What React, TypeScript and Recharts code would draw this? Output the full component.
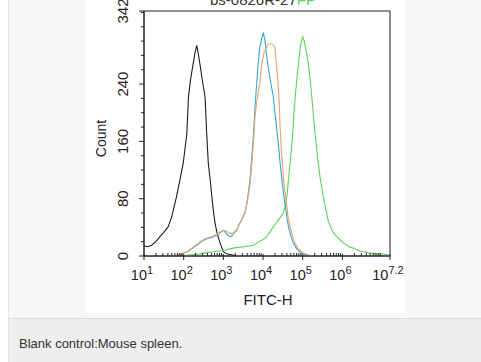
import React from 'react';
import { LineChart, Line, XAxis, YAxis, ReferenceArea } from 'recharts';

// ---- data (x = log10 of FITC-H, y = count) ----
const blankLog = [1.0, 1.1, 1.19, 1.3, 1.4, 1.5, 1.61, 1.7, 1.82, 1.9, 1.99, 2.08, 2.12, 2.17, 2.24, 2.29, 2.33, 2.36, 2.41, 2.47, 2.54, 2.58, 2.62, 2.67, 2.71, 2.75, 2.79, 2.85, 2.92, 3.0, 3.08, 3.17, 3.3];
const blankCount = [14, 13, 15, 20, 27, 33, 41, 55, 83, 105, 130, 171, 222, 245, 269, 285, 294, 285, 268, 245, 222, 171, 130, 105, 83, 62, 46, 30, 18, 6, 3, 2, 0.5];

const isoLog = [1.7, 1.82, 1.95, 2.08, 2.2, 2.33, 2.42, 2.5, 2.6, 2.75, 2.85, 2.93, 3.0, 3.07, 3.13, 3.2, 3.25, 3.34, 3.4, 3.46, 3.5, 3.55, 3.61, 3.67, 3.72, 3.76, 3.8, 3.84, 3.88, 3.92, 3.97, 4.01, 4.05, 4.09, 4.13, 4.2, 4.26, 4.3, 4.34, 4.38, 4.43, 4.49, 4.55, 4.6, 4.64, 4.7, 4.76, 4.85, 4.93, 5.02, 5.1, 5.2];
const isoCount = [0, 1, 3, 6, 10, 15, 19, 22, 24, 27, 30, 33, 36, 32, 28, 27, 30, 36, 45, 50, 55, 60, 80, 106, 140, 171, 210, 241, 270, 292, 305, 311, 300, 280, 264, 240, 222, 200, 180, 160, 130, 100, 74, 55, 41, 28, 18, 10, 6, 3, 1, 0];

const ctrlLog = [1.7, 1.82, 1.95, 2.08, 2.2, 2.33, 2.42, 2.5, 2.6, 2.75, 2.85, 2.93, 3.0, 3.07, 3.13, 3.2, 3.25, 3.34, 3.4, 3.46, 3.5, 3.55, 3.61, 3.67, 3.72, 3.76, 3.8, 3.84, 3.88, 3.92, 3.97, 4.03, 4.08, 4.13, 4.18, 4.23, 4.3, 4.34, 4.38, 4.41, 4.43, 4.47, 4.52, 4.59, 4.63, 4.68, 4.74, 4.8, 4.88, 4.97, 5.06, 5.18, 5.28];
const ctrlCount = [0, 1.5, 3, 6, 11, 16, 20, 23, 25, 28, 31, 34, 36, 35, 33, 31, 32, 37, 44, 50, 56, 62, 78, 100, 130, 160, 195, 215, 228, 241, 269, 285, 290, 296, 296, 296, 292, 265, 241, 210, 180, 140, 105, 74, 55, 41, 28, 18, 10, 6, 3, 1, 0];

const abLog = [2.0, 2.08, 2.25, 2.41, 2.6, 2.75, 2.9, 3.04, 3.15, 3.25, 3.38, 3.5, 3.63, 3.76, 3.87, 3.97, 4.03, 4.09, 4.18, 4.26, 4.32, 4.38, 4.45, 4.51, 4.56, 4.6, 4.64, 4.68, 4.72, 4.75, 4.78, 4.81, 4.85, 4.89, 4.95, 5.0, 5.04, 5.09, 5.14, 5.19, 5.23, 5.27, 5.31, 5.35, 5.39, 5.45, 5.52, 5.58, 5.64, 5.72, 5.8, 5.86, 5.95, 6.03, 6.11, 6.2, 6.28, 6.35, 6.45, 6.53, 6.7, 6.85, 6.95, 7.1, 7.2];
const abCount = [0, 1, 2, 3, 5, 6, 7, 8, 10, 11, 12, 13, 14, 15, 19, 22, 24, 27, 34, 41, 45, 50, 55, 60, 70, 83, 105, 130, 150, 171, 200, 222, 245, 269, 295, 306, 300, 285, 269, 245, 222, 195, 171, 150, 130, 105, 83, 65, 50, 38, 30, 27, 22, 18, 15, 12, 11, 9, 7, 6, 4, 3, 3, 2, 1];

const majorX = [1, 2, 3, 4, 5, 6, 7.2];
const xExponents = ['1', '2', '3', '4', '5', '6', '7.2'];
const decades = [1, 2, 3, 4, 5, 6, 7];
const multipliers = [2, 3, 4, 5, 6, 7, 8, 9];
const majorY = [0, 80, 160, 240, 342];
const minorY = [20, 40, 60, 100, 120, 140, 180, 200, 220, 260, 280, 300, 320, 340];

const titleText = 'bs-0826R-27';
const titleTail = 'FP';
const xTitle = 'FITC-H';
const yTitle = 'Count';
const caption = 'Blank control:Mouse spleen.';

const toPts = (xs: number[], ys: number[]) => xs.map((x, i) => ({ x, y: ys[i] }));
const blankPts = toPts(blankLog, blankCount);
const isoPts = toPts(isoLog, isoCount);
const ctrlPts = toPts(ctrlLog, ctrlCount);
const abPts = toPts(abLog, abCount);

const minorX: number[] = [];
decades.forEach((d) => multipliers.forEach((m) => {
  const v = d + Math.log10(m);
  if (v < 7.2) minorX.push(Number(v.toFixed(4)));
}));
const xTicks = [...majorX, ...minorX].sort((a, b) => a - b);
const yTicks = [...majorY, ...minorY].sort((a, b) => a - b);

const FONT = '"Liberation Sans", Arial, sans-serif';
const AX = '#222';

const XTick = (props: any) => {
  const { x, y, payload } = props;
  const v = payload.value;
  const idx = majorX.indexOf(v);
  if (idx < 0) {
    return <line x1={x} x2={x} y1={y - 3} y2={y} stroke={AX} strokeWidth={1} />;
  }
  return (
    <g>
      <line x1={x} x2={x} y1={y - 2} y2={y + 4} stroke={AX} strokeWidth={1} />
      <text x={x - 2} y={y + 24} textAnchor="middle" fontSize={14.5} fill={AX} fontFamily={FONT}>
        10<tspan dy={-6} fontSize={11}>{xExponents[idx]}</tspan>
      </text>
    </g>
  );
};

const YTick = (props: any) => {
  const { x, y, payload } = props;
  const v = payload.value;
  const major = majorY.includes(v);
  if (!major) {
    return <line x1={x - 3} x2={x} y1={y} y2={y} stroke={AX} strokeWidth={1} />;
  }
  const cx = x - 21;
  return (
    <g>
      <line x1={x - 5} x2={x} y1={y} y2={y} stroke={AX} strokeWidth={1} />
      <text x={cx} y={y} dy="0.36em" textAnchor="middle" fontSize={15} fill={AX} fontFamily={FONT} transform={`rotate(-90, ${cx}, ${y})`}>
        {v}
      </text>
    </g>
  );
};

const YLabel = (props: any) => {
  const vb = props.viewBox || {};
  const cx = vb.x + vb.width - 43;
  const cy = vb.y + vb.height / 2 + 5;
  return (
    <text x={cx} y={cy} dy="0.36em" textAnchor="middle" fontSize={14} fill={AX} fontFamily={FONT} transform={`rotate(-90, ${cx}, ${cy})`}>
      {yTitle}
    </text>
  );
};

const XLabel = (props: any) => {
  const vb = props.viewBox || {};
  const cx = vb.x + vb.width / 2 + 1;
  const cy = vb.y + 49;
  return (
    <text x={cx} y={cy} textAnchor="middle" fontSize={15} fill={AX} fontFamily={FONT}>
      {xTitle}
    </text>
  );
};

export default function App() {
  return (
    <div style={{ position: 'absolute', left: 0, top: 0, width: 481, height: 362, background: '#ffffff', overflow: 'hidden', fontFamily: FONT }}>
      <div style={{ position: 'absolute', left: 8, top: 0, width: 480, height: 318, background: '#f7f7f7', borderLeft: '1px solid #e6e6e6' }} />
      <div style={{ position: 'absolute', left: 8, top: 318, width: 480, height: 44, background: '#eeeeee', borderTop: '1px solid #dddddd', borderLeft: '1px solid #e2e2e2' }} />
      <div style={{ position: 'absolute', left: 19, top: 336, fontSize: 13, lineHeight: '15px', color: '#333', whiteSpace: 'nowrap' }}>{caption}</div>
      <div style={{ position: 'absolute', left: 86, top: 0, width: 319, height: 313, background: '#ffffff' }} />
      <div style={{ position: 'absolute', left: 0, top: 0 }}>
        <LineChart width={481} height={362} margin={{ top: 11, right: 91, bottom: 56, left: 84 }}>
          <XAxis
            dataKey="x"
            type="number"
            domain={[1, 7.2]}
            ticks={xTicks}
            interval={0}
            tick={<XTick />}
            tickLine={false}
            tickSize={0}
            tickMargin={0}
            height={50}
            axisLine={{ stroke: AX }}
            allowDataOverflow
            label={<XLabel />}
          />
          <YAxis
            dataKey="y"
            type="number"
            domain={[0, 342]}
            ticks={yTicks}
            interval={0}
            tick={<YTick />}
            tickLine={false}
            tickSize={0}
            tickMargin={0}
            width={60}
            axisLine={{ stroke: AX }}
            allowDataOverflow
            label={<YLabel />}
          />
          <ReferenceArea x1={1} x2={7.2} y1={0} y2={342} fill="none" stroke={AX} strokeWidth={1} />
          <Line data={blankPts} dataKey="y" type="linear" stroke="#1e1e1e" strokeWidth={1.1} dot={false} isAnimationActive={false} />
          <Line data={abPts} dataKey="y" type="linear" stroke="#5fd35a" strokeWidth={1.1} dot={false} isAnimationActive={false} />
          <Line data={isoPts} dataKey="y" type="linear" stroke="#37a6d6" strokeWidth={1.1} dot={false} isAnimationActive={false} />
          <Line data={ctrlPts} dataKey="y" type="linear" stroke="#eba26a" strokeWidth={1.1} dot={false} isAnimationActive={false} />
        </LineChart>
      </div>
      <svg style={{ position: 'absolute', left: 0, top: 0 }} width={481} height={20}>
        <text x={210} y={5} fontSize={15} fill="#333" fontFamily={FONT}>
          {titleText}<tspan fill="#5fd35a">{titleTail}</tspan>
        </text>
      </svg>
    </div>
  );
}
